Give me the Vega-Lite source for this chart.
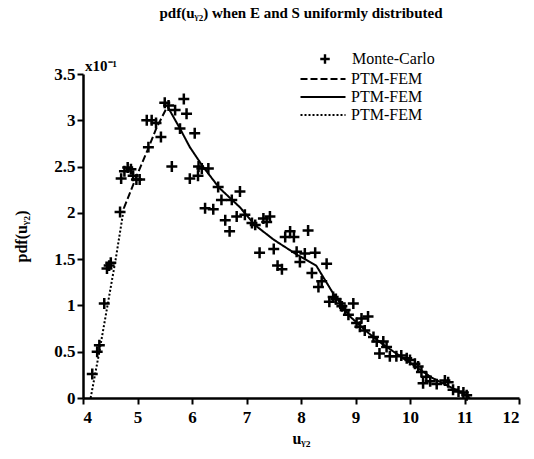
{
  "$schema": "https://vega.github.io/schema/vega-lite/v6.json",
  "width": 436,
  "height": 324,
  "autosize": "none",
  "padding": {"left": 83, "top": 74, "right": 15, "bottom": 61},
  "title": {
    "text": "pdf(uᵧ₂) when E and S uniformly distributed",
    "font": "Liberation Serif",
    "fontSize": 15,
    "fontWeight": "bold",
    "color": "black",
    "anchor": "middle",
    "offset": 30
  },
  "datasets": {
    "points": [
      {"series": "Monte-Carlo", "u": 4.17, "pdf": 0.26},
      {"series": "Monte-Carlo", "u": 4.26, "pdf": 0.50},
      {"series": "Monte-Carlo", "u": 4.30, "pdf": 0.57},
      {"series": "Monte-Carlo", "u": 4.39, "pdf": 1.02},
      {"series": "Monte-Carlo", "u": 4.44, "pdf": 1.40},
      {"series": "Monte-Carlo", "u": 4.48, "pdf": 1.43},
      {"series": "Monte-Carlo", "u": 4.51, "pdf": 1.46},
      {"series": "Monte-Carlo", "u": 4.68, "pdf": 2.01},
      {"series": "Monte-Carlo", "u": 4.70, "pdf": 2.37},
      {"series": "Monte-Carlo", "u": 4.76, "pdf": 2.45},
      {"series": "Monte-Carlo", "u": 4.82, "pdf": 2.49},
      {"series": "Monte-Carlo", "u": 4.88, "pdf": 2.47},
      {"series": "Monte-Carlo", "u": 4.92, "pdf": 2.40},
      {"series": "Monte-Carlo", "u": 4.98, "pdf": 2.36},
      {"series": "Monte-Carlo", "u": 5.04, "pdf": 2.36},
      {"series": "Monte-Carlo", "u": 5.20, "pdf": 2.71},
      {"series": "Monte-Carlo", "u": 5.17, "pdf": 3.00},
      {"series": "Monte-Carlo", "u": 5.26, "pdf": 3.00},
      {"series": "Monte-Carlo", "u": 5.34, "pdf": 2.97},
      {"series": "Monte-Carlo", "u": 5.43, "pdf": 2.82},
      {"series": "Monte-Carlo", "u": 5.50, "pdf": 3.19},
      {"series": "Monte-Carlo", "u": 5.57, "pdf": 3.16},
      {"series": "Monte-Carlo", "u": 5.69, "pdf": 3.11},
      {"series": "Monte-Carlo", "u": 5.85, "pdf": 3.23},
      {"series": "Monte-Carlo", "u": 5.90, "pdf": 3.07},
      {"series": "Monte-Carlo", "u": 5.78, "pdf": 2.91},
      {"series": "Monte-Carlo", "u": 6.05, "pdf": 2.86},
      {"series": "Monte-Carlo", "u": 5.63, "pdf": 2.50},
      {"series": "Monte-Carlo", "u": 5.96, "pdf": 2.37},
      {"series": "Monte-Carlo", "u": 6.11, "pdf": 2.40},
      {"series": "Monte-Carlo", "u": 6.12, "pdf": 2.50},
      {"series": "Monte-Carlo", "u": 6.18, "pdf": 2.48},
      {"series": "Monte-Carlo", "u": 6.30, "pdf": 2.48},
      {"series": "Monte-Carlo", "u": 6.48, "pdf": 2.28},
      {"series": "Monte-Carlo", "u": 6.54, "pdf": 2.14},
      {"series": "Monte-Carlo", "u": 6.73, "pdf": 2.14},
      {"series": "Monte-Carlo", "u": 6.88, "pdf": 2.23},
      {"series": "Monte-Carlo", "u": 6.24, "pdf": 2.05},
      {"series": "Monte-Carlo", "u": 6.39, "pdf": 2.04},
      {"series": "Monte-Carlo", "u": 6.61, "pdf": 1.92},
      {"series": "Monte-Carlo", "u": 6.82, "pdf": 1.96},
      {"series": "Monte-Carlo", "u": 6.97, "pdf": 1.98},
      {"series": "Monte-Carlo", "u": 7.10, "pdf": 1.89},
      {"series": "Monte-Carlo", "u": 7.16, "pdf": 1.87},
      {"series": "Monte-Carlo", "u": 7.31, "pdf": 1.94},
      {"series": "Monte-Carlo", "u": 7.43, "pdf": 1.96},
      {"series": "Monte-Carlo", "u": 7.37, "pdf": 1.90},
      {"series": "Monte-Carlo", "u": 6.69, "pdf": 1.80},
      {"series": "Monte-Carlo", "u": 7.80, "pdf": 1.80},
      {"series": "Monte-Carlo", "u": 7.71, "pdf": 1.74},
      {"series": "Monte-Carlo", "u": 7.87, "pdf": 1.74},
      {"series": "Monte-Carlo", "u": 8.13, "pdf": 1.81},
      {"series": "Monte-Carlo", "u": 7.24, "pdf": 1.57},
      {"series": "Monte-Carlo", "u": 7.50, "pdf": 1.61},
      {"series": "Monte-Carlo", "u": 7.57, "pdf": 1.43},
      {"series": "Monte-Carlo", "u": 7.65, "pdf": 1.39},
      {"series": "Monte-Carlo", "u": 7.92, "pdf": 1.58},
      {"series": "Monte-Carlo", "u": 8.07, "pdf": 1.56},
      {"series": "Monte-Carlo", "u": 8.26, "pdf": 1.57},
      {"series": "Monte-Carlo", "u": 7.98, "pdf": 1.47},
      {"series": "Monte-Carlo", "u": 8.20, "pdf": 1.35},
      {"series": "Monte-Carlo", "u": 8.47, "pdf": 1.45},
      {"series": "Monte-Carlo", "u": 8.32, "pdf": 1.20},
      {"series": "Monte-Carlo", "u": 8.38, "pdf": 1.26},
      {"series": "Monte-Carlo", "u": 8.52, "pdf": 1.04},
      {"series": "Monte-Carlo", "u": 8.59, "pdf": 1.09},
      {"series": "Monte-Carlo", "u": 8.64, "pdf": 1.07},
      {"series": "Monte-Carlo", "u": 8.72, "pdf": 1.02},
      {"series": "Monte-Carlo", "u": 8.75, "pdf": 0.99},
      {"series": "Monte-Carlo", "u": 8.81, "pdf": 0.95},
      {"series": "Monte-Carlo", "u": 8.87, "pdf": 0.90},
      {"series": "Monte-Carlo", "u": 8.96, "pdf": 1.02},
      {"series": "Monte-Carlo", "u": 9.02, "pdf": 0.81},
      {"series": "Monte-Carlo", "u": 9.08, "pdf": 0.77},
      {"series": "Monte-Carlo", "u": 9.11, "pdf": 0.86},
      {"series": "Monte-Carlo", "u": 9.23, "pdf": 0.88},
      {"series": "Monte-Carlo", "u": 9.17, "pdf": 0.73},
      {"series": "Monte-Carlo", "u": 9.33, "pdf": 0.66},
      {"series": "Monte-Carlo", "u": 9.39, "pdf": 0.61},
      {"series": "Monte-Carlo", "u": 9.51, "pdf": 0.61},
      {"series": "Monte-Carlo", "u": 9.57, "pdf": 0.55},
      {"series": "Monte-Carlo", "u": 9.44, "pdf": 0.48},
      {"series": "Monte-Carlo", "u": 9.63, "pdf": 0.45},
      {"series": "Monte-Carlo", "u": 9.75, "pdf": 0.45},
      {"series": "Monte-Carlo", "u": 9.84, "pdf": 0.46},
      {"series": "Monte-Carlo", "u": 9.94, "pdf": 0.43},
      {"series": "Monte-Carlo", "u": 10.00, "pdf": 0.41},
      {"series": "Monte-Carlo", "u": 10.09, "pdf": 0.37},
      {"series": "Monte-Carlo", "u": 10.15, "pdf": 0.34},
      {"series": "Monte-Carlo", "u": 10.21, "pdf": 0.28},
      {"series": "Monte-Carlo", "u": 10.30, "pdf": 0.23},
      {"series": "Monte-Carlo", "u": 10.24, "pdf": 0.16},
      {"series": "Monte-Carlo", "u": 10.37, "pdf": 0.18},
      {"series": "Monte-Carlo", "u": 10.49, "pdf": 0.15},
      {"series": "Monte-Carlo", "u": 10.64, "pdf": 0.19},
      {"series": "Monte-Carlo", "u": 10.70, "pdf": 0.17},
      {"series": "Monte-Carlo", "u": 10.79, "pdf": 0.09},
      {"series": "Monte-Carlo", "u": 10.89, "pdf": 0.07},
      {"series": "Monte-Carlo", "u": 10.98, "pdf": 0.06},
      {"series": "Monte-Carlo", "u": 11.04, "pdf": 0.03}
    ],
    "curve": [
      {"part": "dotted", "u": 4.14, "pdf": 0.0},
      {"part": "dotted", "u": 4.30, "pdf": 0.5},
      {"part": "dotted", "u": 4.45, "pdf": 1.0},
      {"part": "dotted", "u": 4.60, "pdf": 1.5},
      {"part": "dotted", "u": 4.75, "pdf": 2.05},
      {"part": "dashed", "u": 4.75, "pdf": 2.05},
      {"part": "dashed", "u": 5.0, "pdf": 2.42},
      {"part": "dashed", "u": 5.2, "pdf": 2.70},
      {"part": "dashed", "u": 5.35, "pdf": 2.92},
      {"part": "dashed", "u": 5.55, "pdf": 3.15},
      {"part": "solid", "u": 5.55, "pdf": 3.15},
      {"part": "solid", "u": 5.78, "pdf": 2.91},
      {"part": "solid", "u": 5.96, "pdf": 2.71},
      {"part": "solid", "u": 6.2, "pdf": 2.50},
      {"part": "solid", "u": 6.5, "pdf": 2.27},
      {"part": "solid", "u": 6.88, "pdf": 2.06},
      {"part": "solid", "u": 7.15, "pdf": 1.87},
      {"part": "solid", "u": 7.5, "pdf": 1.71},
      {"part": "solid", "u": 7.92, "pdf": 1.55},
      {"part": "solid", "u": 8.28, "pdf": 1.43},
      {"part": "solid", "u": 8.6, "pdf": 1.12},
      {"part": "solid", "u": 8.9, "pdf": 0.88},
      {"part": "solid", "u": 9.2, "pdf": 0.72},
      {"part": "solid", "u": 9.5, "pdf": 0.58},
      {"part": "solid", "u": 9.8, "pdf": 0.46},
      {"part": "solid", "u": 10.1, "pdf": 0.34},
      {"part": "solid", "u": 10.4, "pdf": 0.22},
      {"part": "solid", "u": 10.7, "pdf": 0.13},
      {"part": "solid", "u": 11.0, "pdf": 0.04},
      {"part": "solid", "u": 11.1, "pdf": 0.0}
    ]
  },
  "layer": [
    {
      "data": {"name": "curve"},
      "mark": {"type": "line", "color": "black", "strokeWidth": 2},
      "encoding": {
        "x": {
          "field": "u", "type": "quantitative",
          "scale": {"domain": [4, 12], "nice": false, "zero": false},
          "axis": {"values": [4, 5, 6, 7, 8, 9, 10, 11, 12], "title": "uᵧ₂", "titlePadding": 5, "labelPadding": 5}
        },
        "y": {
          "field": "pdf", "type": "quantitative",
          "scale": {"domain": [0, 3.5], "nice": false},
          "axis": {"values": [0, 0.5, 1, 1.5, 2, 2.5, 3, 3.5], "format": ".1~f", "title": "pdf(uᵧ₂)", "titlePadding": 24}
        },
        "strokeDash": {
          "field": "part", "type": "nominal",
          "scale": {"domain": ["dashed", "solid", "dotted"], "range": [[7, 3], [1, 0], [2, 2]]},
          "legend": {
            "orient": "none", "legendX": 230, "legendY": -5, "title": null,
            "labelExpr": "'PTM-FEM'",
            "symbolType": "M-2.5,0H2.5", "symbolSize": 324, "symbolStrokeWidth": 2,
            "symbolStrokeColor": "black", "labelOffset": 18, "rowPadding": 0,
            "labelFont": "Liberation Serif", "labelFontSize": 16, "labelColor": "black"
          }
        }
      }
    },
    {
      "data": {"name": "points"},
      "mark": {"type": "point", "filled": false, "color": "black", "strokeWidth": 2.5, "size": 120, "opacity": 1},
      "encoding": {
        "x": {"field": "u", "type": "quantitative"},
        "y": {"field": "pdf", "type": "quantitative"},
        "shape": {
          "field": "series", "type": "nominal",
          "scale": {"domain": ["Monte-Carlo"], "range": ["M-1,0H1M0,-1V1"]},
          "legend": {
            "orient": "none", "legendX": 234, "legendY": -23, "title": null,
            "symbolSize": 90, "symbolStrokeWidth": 2.4, "symbolStrokeColor": "black",
            "labelOffset": 19,
            "labelFont": "Liberation Serif", "labelFontSize": 16, "labelColor": "black"
          }
        }
      }
    },
    {
      "data": {"values": [{}]},
      "mark": {"type": "text", "text": "x10⁻¹", "align": "left", "baseline": "bottom", "dx": 2, "dy": 0, "font": "Liberation Serif", "fontSize": 15, "fontWeight": "bold", "color": "black"},
      "encoding": {
        "x": {"datum": 4, "type": "quantitative"},
        "y": {"datum": 3.5, "type": "quantitative"}
      }
    }
  ],
  "config": {
    "view": {"stroke": null},
    "axis": {
      "grid": false,
      "domainColor": "black", "domainWidth": 2.5,
      "tickColor": "black", "tickWidth": 2, "tickSize": 6,
      "labelFont": "Liberation Serif", "labelFontSize": 17, "labelFontWeight": "bold", "labelColor": "black", "labelPadding": 2,
      "titleFont": "Liberation Serif", "titleFontSize": 16, "titleFontWeight": "bold", "titleColor": "black"
    },
    "legend": {"padding": 0}
  }
}
